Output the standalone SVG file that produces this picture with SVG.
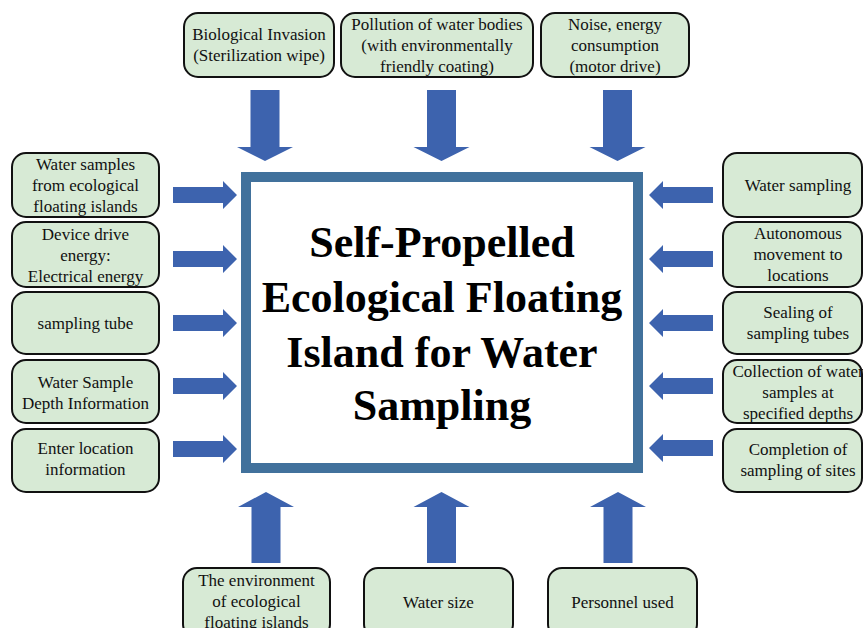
<svg xmlns="http://www.w3.org/2000/svg" width="863" height="628" viewBox="0 0 863 628">
<style>
.box{fill:#D7EAD5;stroke:#111;stroke-width:2}
.t{font-family:"Liberation Serif","Times New Roman",serif;font-size:17px;fill:#111;text-anchor:middle}
.arr{fill:#3D63AE}
.title{font-family:"Liberation Serif","Times New Roman",serif;font-size:44px;font-weight:bold;fill:#000;text-anchor:middle}
</style>
<rect width="863" height="628" fill="#fff"/>
<g id="center">
<rect x="246" y="177" width="392" height="291" fill="#fff" stroke="#41719C" stroke-width="10"/>
<text class="title" x="442" y="257">Self-Propelled</text>
<text class="title" x="442" y="312">Ecological Floating</text>
<text class="title" x="442" y="367">Island for Water</text>
<text class="title" x="442" y="420">Sampling</text>
</g>
<g id="connectors">
<path class="arr" d="M250.5,90 H279.5 V147 H293 L265,161 L237,147 H250.5 Z"/>
<path class="arr" d="M427,90 H456 V147 H469.5 L441.5,161 L413.5,147 H427 Z"/>
<path class="arr" d="M603,90 H632 V147 H645.5 L617.5,161 L589.5,147 H603 Z"/>
<path class="arr" d="M251.5,563 V507 H238 L266,492 L294,507 H280.5 V563 Z"/>
<path class="arr" d="M427,563 V507 H413.5 L441.5,492 L469.5,507 H456 V563 Z"/>
<path class="arr" d="M603.5,563 V507 H590 L618,492 L646,507 H632.5 V563 Z"/>
<path class="arr" d="M173,187 H223 V181 L237,195 L223,209 V203 H173 Z"/>
<path class="arr" d="M173,251 H223 V245 L237,259 L223,273 V267 H173 Z"/>
<path class="arr" d="M173,315 H223 V309 L237,323 L223,337 V331 H173 Z"/>
<path class="arr" d="M173,378 H223 V372 L237,386 L223,400 V394 H173 Z"/>
<path class="arr" d="M173,441 H223 V435 L237,449 L223,463 V457 H173 Z"/>
<path class="arr" d="M713,187 H663 V181 L649,195 L663,209 V203 H713 Z"/>
<path class="arr" d="M713,251 H663 V245 L649,259 L663,273 V267 H713 Z"/>
<path class="arr" d="M713,315 H663 V309 L649,323 L663,337 V331 H713 Z"/>
<path class="arr" d="M713,378 H663 V372 L649,386 L663,400 V394 H713 Z"/>
<path class="arr" d="M713,440 H663 V434 L649,448 L663,462 V456 H713 Z"/>
</g>
<g id="top1"><rect class="box" x="184" y="13" width="150" height="64" rx="14"/>
<text class="t" x="259" y="40">Biological Invasion</text><text class="t" x="259" y="61">(Sterilization wipe)</text></g>
<g id="top2"><rect class="box" x="341" y="13" width="192" height="64" rx="14"/>
<text class="t" x="437" y="30">Pollution of water bodies</text><text class="t" x="437" y="51">(with environmentally</text><text class="t" x="437" y="72">friendly coating)</text></g>
<g id="top3"><rect class="box" x="541" y="13" width="148" height="64" rx="14"/>
<text class="t" x="615" y="30">Noise, energy</text><text class="t" x="615" y="51">consumption</text><text class="t" x="615" y="72">(motor drive)</text></g>
<g id="left1"><rect class="box" x="12" y="153" width="147" height="64" rx="14"/>
<text class="t" x="85.5" y="170">Water samples</text><text class="t" x="85.5" y="191">from ecological</text><text class="t" x="85.5" y="212">floating islands</text></g>
<g id="left2"><rect class="box" x="12" y="222" width="147" height="65" rx="14"/>
<text class="t" x="85.5" y="239.5">Device drive</text><text class="t" x="85.5" y="260.5">energy:</text><text class="t" x="85.5" y="281.5">Electrical energy</text></g>
<g id="left3"><rect class="box" x="12" y="292" width="147" height="62" rx="14"/>
<text class="t" x="85.5" y="329">sampling tube</text></g>
<g id="left4"><rect class="box" x="12" y="360" width="147" height="63" rx="14"/>
<text class="t" x="85.5" y="387.5">Water Sample</text><text class="t" x="85.5" y="408.5">Depth Information</text></g>
<g id="left5"><rect class="box" x="12" y="429" width="147" height="63" rx="14"/>
<text class="t" x="85.5" y="454">Enter location</text><text class="t" x="85.5" y="475">information</text></g>
<g id="right1"><rect class="box" x="723" y="153" width="139" height="64" rx="14"/>
<text class="t" x="798" y="191">Water sampling</text></g>
<g id="right2"><rect class="box" x="723" y="222" width="139" height="65" rx="14"/>
<text class="t" x="798" y="239">Autonomous</text><text class="t" x="798" y="260">movement to</text><text class="t" x="798" y="281">locations</text></g>
<g id="right3"><rect class="box" x="723" y="292" width="139" height="62" rx="14"/>
<text class="t" x="798" y="318">Sealing of</text><text class="t" x="798" y="339">sampling tubes</text></g>
<g id="right4"><rect class="box" x="723" y="360" width="139" height="63" rx="14"/>
<text class="t" x="798" y="377">Collection of water</text><text class="t" x="798" y="398">samples at</text><text class="t" x="798" y="419">specified depths</text></g>
<g id="right5"><rect class="box" x="723" y="429" width="139" height="63" rx="14"/>
<text class="t" x="798" y="455">Completion of</text><text class="t" x="798" y="476">sampling of sites</text></g>
<g id="bottom1"><rect class="box" x="183" y="568" width="147" height="70" rx="14"/>
<text class="t" x="256.5" y="586">The environment</text><text class="t" x="256.5" y="607">of ecological</text><text class="t" x="256.5" y="628">floating islands</text></g>
<g id="bottom2"><rect class="box" x="364" y="568" width="149" height="70" rx="14"/>
<text class="t" x="438.5" y="608">Water size</text></g>
<g id="bottom3"><rect class="box" x="548" y="568" width="149" height="70" rx="14"/>
<text class="t" x="622.5" y="608">Personnel used</text></g>
</svg>
